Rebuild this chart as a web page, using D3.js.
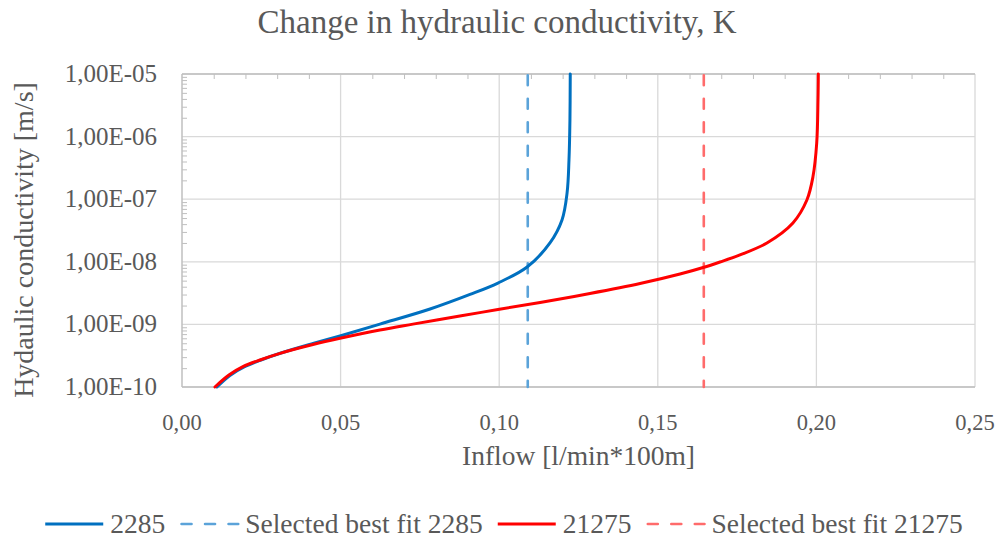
<!DOCTYPE html>
<html>
<head>
<meta charset="utf-8">
<script src="https://cdn.jsdelivr.net/npm/d3@7"></script>
<style>
  html, body { margin: 0; padding: 0; background: #fff; }
  svg text { font-family: "Liberation Serif", "Times New Roman", serif; fill: #595959; }
</style>
</head>
<body>
<svg id="chart" width="999" height="535"></svg>
<script>
// Inflow [l/min*100m] against hydraulic conductivity K [m/s]
const inflow2285 = [0.0110, 0.0151, 0.0196, 0.0249, 0.0312, 0.0413, 0.0498, 0.0624, 0.0782, 0.0908, 0.0996, 0.1088, 0.1160, 0.1198, 0.1214, 0.1220, 0.1223, 0.1224];
const k2285      = [1.0e-10, 1.53e-10, 2.09e-10, 2.70e-10, 3.49e-10, 4.95e-10, 6.53e-10, 1.01e-9, 1.76e-9, 3.01e-9, 4.58e-9, 8.26e-9, 2.0e-8, 4.66e-8, 1.26e-7, 4.23e-7, 1.84e-6, 1.0e-5];

const inflow21275 = [0.0104, 0.0148, 0.0192, 0.0246, 0.0309, 0.0413, 0.0498, 0.0624, 0.0728, 0.0876, 0.0996, 0.1129, 0.1286, 0.1444, 0.1570, 0.1643, 0.1696, 0.1759, 0.1844, 0.1926, 0.1970, 0.1989, 0.2001, 0.2005, 0.2006];
const k21275      = [1.0e-10, 1.55e-10, 2.11e-10, 2.70e-10, 3.45e-10, 4.77e-10, 6.0e-10, 8.14e-10, 1.01e-9, 1.36e-9, 1.73e-9, 2.24e-9, 3.12e-9, 4.50e-9, 6.38e-9, 8.11e-9, 9.93e-9, 1.29e-8, 2.0e-8, 4.17e-8, 9.7e-8, 2.26e-7, 7.9e-7, 3.85e-6, 1.0e-5];

// Selected best-fit inflow for each case
const bestFit2285 = 0.109;
const bestFit21275 = 0.1645;

const xTicks = [0, 0.05, 0.10, 0.15, 0.20, 0.25];
const yTicks = [1e-10, 1e-9, 1e-8, 1e-7, 1e-6, 1e-5];

const seriesNames = ["2285", "Selected best fit 2285", "21275", "Selected best fit 21275"];
const chartTitle = "Change in hydraulic conductivity, K";
const xTitle = "Inflow [l/min*100m]";
const yTitle = "Hydaulic conductivity [m/s]";

// ---- layout ----
const plot = { left: 182, right: 975, top: 74, bottom: 387 };
const colBlue = "#0070C0", colBlueFit = "#5BA3D9", colRed = "#FF0000", colRedFit = "#FF6B6B";
const gridCol = "#D9D9D9", axisCol = "#BFBFBF";
const fitDash = "10,13.5";

const svg = d3.select("#chart");

const x = d3.scaleLinear().domain([0, 0.25]).range([plot.left, plot.right]);
const y = d3.scaleLog().domain([1e-10, 1e-5]).range([plot.bottom, plot.top]);

const fmtX = v => d3.format(".2f")(v).replace(".", ",");
const fmtY = v => {
  const e = Math.round(Math.log10(v));
  const s = e < 0 ? "-" : "+";
  return "1,00E" + s + String(Math.abs(e)).padStart(2, "0");
};

// gridlines
const grid = svg.append("g");
grid.selectAll("line.h").data(yTicks).join("line")
  .attr("x1", plot.left).attr("x2", plot.right)
  .attr("y1", d => y(d)).attr("y2", d => y(d))
  .attr("stroke", gridCol).attr("stroke-width", 1.3);
grid.selectAll("line.v").data(xTicks.slice(1)).join("line")
  .attr("x1", d => x(d)).attr("x2", d => x(d))
  .attr("y1", plot.top).attr("y2", plot.bottom)
  .attr("stroke", gridCol).attr("stroke-width", 1.3);

// vertical axis (left) with inward log minor ticks
const yMinor = [];
for (let e = -10; e < -5; e++) for (let m = 2; m <= 9; m++) yMinor.push(m * Math.pow(10, e));
const yAxis = d3.axisRight(y).tickValues(yMinor).tickSize(5).tickFormat("");
const gy = svg.append("g").attr("transform", `translate(${plot.left},0)`).call(yAxis);
gy.select(".domain").remove();
gy.selectAll(".tick line").attr("stroke", axisCol).attr("stroke-width", 1);
svg.append("line").attr("x1", plot.left).attr("x2", plot.left)
  .attr("y1", plot.top).attr("y2", plot.bottom).attr("stroke", axisCol).attr("stroke-width", 1.5);

// horizontal axis along the top, with inward minor ticks
const xMinor = d3.range(1, 25).map(i => i / 100).filter(v => Math.round(v * 100) % 5 !== 0);
const xAxis = d3.axisBottom(x).tickValues(xMinor).tickSize(5).tickFormat("");
const gx = svg.append("g").attr("transform", `translate(0,${plot.top})`).call(xAxis);
gx.select(".domain").remove();
gx.selectAll(".tick line").attr("stroke", axisCol).attr("stroke-width", 1);
svg.append("line").attr("x1", plot.left).attr("x2", plot.right)
  .attr("y1", plot.top).attr("y2", plot.top).attr("stroke", axisCol).attr("stroke-width", 1.5);
svg.append("line").attr("x1", plot.left).attr("x2", plot.right)
  .attr("y1", plot.bottom).attr("y2", plot.bottom).attr("stroke", axisCol).attr("stroke-width", 1.3);

// tick labels
svg.append("g").selectAll("text").data(yTicks).join("text")
  .attr("x", 157).attr("y", d => y(d) + 8)
  .attr("text-anchor", "end").attr("font-size", 25)
  .text(fmtY);
svg.append("g").selectAll("text").data(xTicks).join("text")
  .attr("x", d => x(d)).attr("y", 430)
  .attr("text-anchor", "middle").attr("font-size", 22.5)
  .text(fmtX);

// titles
svg.append("text").attr("x", 497).attr("y", 33).attr("text-anchor", "middle")
  .attr("font-size", 33).text(chartTitle);
svg.append("text").attr("x", (plot.left + plot.right) / 2).attr("y", 465).attr("text-anchor", "middle")
  .attr("font-size", 27.5).text(xTitle);
svg.append("text").attr("transform", `translate(33,240) rotate(-90)`)
  .attr("text-anchor", "middle").attr("font-size", 28).text(yTitle);

// plot-area clip
svg.append("clipPath").attr("id", "plotClip").append("rect")
  .attr("x", plot.left).attr("y", plot.top - 2)
  .attr("width", plot.right - plot.left).attr("height", plot.bottom - plot.top + 4);
const marks = svg.append("g").attr("clip-path", "url(#plotClip)");

// best-fit markers
[[bestFit2285, colBlueFit], [bestFit21275, colRedFit]].forEach(([v, c]) => {
  marks.append("line")
    .attr("x1", x(v)).attr("x2", x(v))
    .attr("y1", y(1e-5) + 1.3).attr("y2", y(1e-10))
    .attr("stroke", c).attr("stroke-width", 2.6)
    .attr("stroke-linecap", "round")
    .attr("stroke-dasharray", fitDash);
});

// curves
const line = d3.line().x(d => x(d[0])).y(d => y(d[1])).curve(d3.curveCatmullRom.alpha(0.5));
marks.append("path").datum(d3.zip(inflow2285, k2285))
  .attr("d", line).attr("fill", "none").attr("stroke", colBlue)
  .attr("stroke-width", 3).attr("stroke-linejoin", "round").attr("stroke-linecap", "round");
marks.append("path").datum(d3.zip(inflow21275, k21275))
  .attr("d", line).attr("fill", "none").attr("stroke", colRed)
  .attr("stroke-width", 3).attr("stroke-linejoin", "round").attr("stroke-linecap", "round");

// legend
const legendItems = [
  { name: seriesNames[0], color: colBlue, dash: null },
  { name: seriesNames[1], color: colBlueFit, dash: fitDash },
  { name: seriesNames[2], color: colRed, dash: null },
  { name: seriesNames[3], color: colRedFit, dash: fitDash }
];
const legend = svg.append("g");
const symW = 58, symGap = 7, itemGap = 15, legY = 524;
let cursor = 0;
legendItems.forEach(it => {
  const g = legend.append("g");
  g.append("line")
    .attr("x1", cursor + (it.dash ? 1.3 : 0)).attr("x2", cursor + symW)
    .attr("y1", legY).attr("y2", legY)
    .attr("stroke", it.color).attr("stroke-width", it.dash ? 2.6 : 3)
    .attr("stroke-linecap", it.dash ? "round" : "butt")
    .attr("stroke-dasharray", it.dash);
  const t = g.append("text").attr("x", cursor + symW + symGap).attr("y", legY + 8.5)
    .attr("font-size", 27.5).text(it.name);
  cursor += symW + symGap + t.node().getComputedTextLength() + itemGap;
});
const legW = cursor - itemGap;
legend.attr("transform", `translate(${504 - legW / 2},0)`);
</script>
</body>
</html>
